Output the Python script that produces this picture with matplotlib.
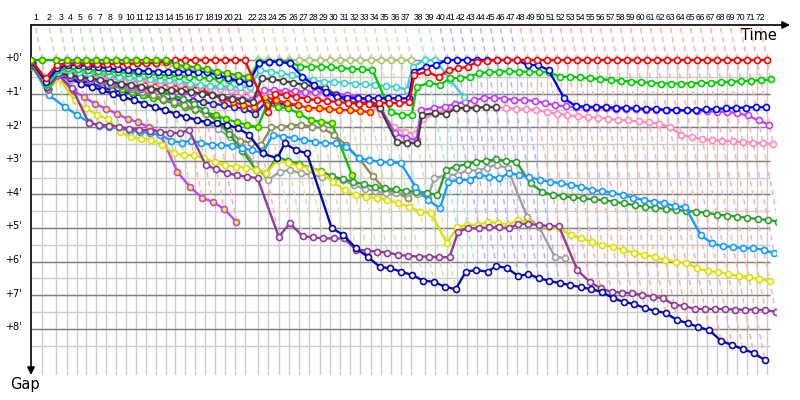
import numpy as np
import matplotlib
matplotlib.use("Agg")
import matplotlib.pyplot as plt

# leader lap times in minutes, laps 1..72
lap_times = [1.65, 2.08, 1.72,
             1.52, 1.52, 1.52, 1.52, 1.52, 1.52, 1.52, 1.52, 1.52, 1.52,
             1.52, 1.52, 1.52, 1.52, 1.52, 1.52, 1.52, 1.52,
             2.11,
             1.57, 1.57, 1.57, 1.57, 1.57, 1.57, 1.57, 1.57, 1.57, 1.57,
             1.57, 1.57, 1.57, 1.57, 1.57,
             2.08, 1.62, 1.72,
             1.54, 1.54, 1.54, 1.54, 1.54, 1.54, 1.54, 1.54, 1.54, 1.54,
             1.54, 1.54, 1.54, 1.54, 1.54, 1.54, 1.54, 1.54, 1.54, 1.54,
             1.54, 1.54, 1.54, 1.54, 1.54, 1.54, 1.54, 1.54, 1.54, 1.54,
             1.54, 1.54]

# who leads each lap (laps 1..72)
lap_leader = ["gy1"] * 13 + ["red"] * 8 + ["olive"] * 16 + ["cyan"] * 2 + ["blue"] * 8 + ["red"] * 25

# gap to the front (minutes) per lap, starting at lap 0
gy1 = [0, 0, 0, 0, 0, 0, 0, 0, 0, 0, 0, 0, 0, 0,
       0.15, 0.18, 0.22, 0.28, 0.35, 0.4, 0.45, 0.5]
red = [0.02, 0.55, 0.15, 0.1, 0.1, 0.12, 0.12, 0.12, 0.12, 0.12, 0.1, 0.1, 0.08, 0.05,
       0, 0, 0, 0, 0, 0, 0, 0,
       1.55, 1.0, 1.05, 1.1, 1.15, 1.2, 1.22, 1.25, 1.28, 1.3, 1.3, 1.28, 1.28, 1.28, 1.25,
       0.45, 0.35, 0.5, 0.3, 0.25, 0.2, 0.05, 0.02,
       0, 0, 0, 0, 0, 0, 0, 0, 0, 0, 0, 0, 0, 0, 0, 0, 0, 0, 0, 0, 0, 0, 0, 0, 0, 0, 0, 0]
blue = [0.05, 0.65, 0.25, 0.15, 0.15, 0.18, 0.2, 0.25, 0.28, 0.3, 0.32, 0.33, 0.35, 0.35,
        0.35, 0.35, 0.36, 0.36, 0.45, 0.55, 0.62, 0.68,
        0.1, 0.05, 0.05, 0.1, 0.5, 0.75, 0.95, 1.1, 1.12, 1.14, 1.14, 1.14, 1.14, 1.14, 1.14,
        0.35, 0.2, 0.15, 0, 0, 0, 0, 0, 0, 0, 0, 0.15, 0.15, 0.3, 1.14,
        1.37, 1.39, 1.4, 1.4, 1.42, 1.42, 1.44, 1.45, 1.46, 1.48, 1.49, 1.5, 1.48, 1.47,
        1.45, 1.44, 1.42, 1.42, 1.4, 1.41]
green = [0.1, 0.7, 0.3, 0.25, 0.28, 0.3, 0.32, 0.34, 0.36, 0.38, 0.4, 0.42, 0.44, 0.46,
         0.48, 0.5, 0.52, 0.55, 0.58, 0.6, 0.62, 0.65,
         0.05, 0.05, 0.05, 0.05, 0.2, 0.2, 0.2, 0.22, 0.24, 0.26, 0.28, 0.3, 1.55, 1.64, 1.64,
         0.8, 0.68, 0.74, 0.54, 0.54, 0.5, 0.39, 0.36, 0.35, 0.33, 0.35, 0.35, 0.36, 0.36, 0.5,
         0.5, 0.52, 0.55, 0.57, 0.6, 0.62, 0.64, 0.66, 0.68, 0.7, 0.7, 0.7, 0.7, 0.68, 0.68,
         0.66, 0.65, 0.63, 0.62, 0.6, 0.58]
olive = [0.05, 0.6, 0.2, 0.05, 0.05, 0.08, 0.08, 0.1, 0.1, 0.1, 0.12, 0.12, 0.12, 0.15,
         0.2, 0.25, 0.32, 0.38, 0.45, 0.5, 0.55, 0.6,
         0, 0, 0, 0, 0, 0, 0, 0, 0, 0, 0, 0, 0, 0, 0, 0]
cyan = [0.1, 0.75, 0.35, 0.3, 0.35, 0.38, 0.4, 0.45, 0.5, 0.52, 0.55, 0.58, 0.6, 0.6,
        0.62, 0.72, 0.75, 0.78, 0.78, 0.8, 0.8, 0.8,
        0.3, 0.35, 0.4, 0.45, 0.53, 0.6, 0.65, 0.65, 0.68, 0.7, 0.72, 0.74, 0.78, 0.8, 0.88,
        0.2, 0, 0, 0.6, 1.1]
black = [0.12, 0.8, 0.4, 0.45, 0.5, 0.55, 0.6, 0.65, 0.7, 0.75, 0.8, 0.85, 0.88, 0.9,
         0.92, 0.95, 1.0, 1.05, 1.1, 1.15, 1.2, 1.25,
         0.55, 0.58, 0.62, 0.68, 0.74, 0.78, 0.83, 1.04, 1.25, 1.28, 1.28, 1.43, 2.44, 2.47, 2.47,
         1.64, 1.58, 1.62, 1.43, 1.43, 1.43, 1.4, 1.4]
violet = [0.15, 0.85, 0.45, 0.5, 0.55, 0.6, 0.65, 0.7, 0.75, 0.8, 0.85, 0.88, 0.9, 0.92,
          0.95, 1.0, 1.02, 1.05, 1.1, 1.12, 1.15, 1.2,
          0.9, 0.9, 0.92, 0.92, 0.95, 0.95, 0.98, 1.0, 1.05, 1.1, 1.2, 1.35, 2.17, 2.32, 2.38,
          1.49, 1.43, 1.4, 1.3, 1.25, 1.2, 1.13, 1.13, 1.15, 1.19, 1.19, 1.22, 1.28, 1.35,
          1.38, 1.4, 1.42, 1.42, 1.44, 1.45, 1.45, 1.46, 1.48, 1.48, 1.5, 1.5, 1.5, 1.52,
          1.52, 1.54, 1.55, 1.58, 1.65, 1.8, 1.93]
pink = [0.12, 0.8, 0.4, 0.4, 0.45, 0.5, 0.52, 0.55, 0.58, 0.6, 0.62, 0.65, 0.68, 0.7,
        0.72, 0.75, 0.78, 0.82, 0.85, 0.9, 0.95, 1.0,
        0.95, 0.92, 0.95, 0.98, 1.0, 1.0, 1.02, 1.05, 1.1, 1.2, 1.3, 1.6, 2.0, 2.15, 2.2,
        1.75, 1.6, 1.5, 1.43, 1.42, 1.4, 1.4, 1.42, 1.43, 1.45, 1.47, 1.49, 1.55, 1.6,
        1.64, 1.68, 1.7, 1.72, 1.75, 1.78, 1.8, 1.83, 1.86, 1.9,
        2.0, 2.23, 2.3, 2.35, 2.38, 2.4, 2.42, 2.44, 2.46, 2.48, 2.5]
navy = [0.15, 0.85, 0.45, 0.55, 0.7, 0.8, 0.9, 1.0, 1.1, 1.2, 1.3, 1.4, 1.5, 1.6,
        1.7, 1.78, 1.85, 1.88, 1.93, 2.03, 2.23, 2.78,
        2.93, 2.48, 2.68, 2.78, 5.0, 5.2, 5.6, 5.86, 6.16, 6.2, 6.3, 6.4, 6.57, 6.6, 6.75,
        6.82, 6.3, 6.25, 6.3, 6.13, 6.19, 6.43, 6.37, 6.49, 6.58, 6.64, 6.7, 6.76, 6.82,
        6.9, 7.08, 7.2, 7.26, 7.38, 7.47, 7.53, 7.74, 7.83, 7.95, 8.04, 8.36, 8.48, 8.6,
        8.72, 8.93]
purple = [0.18, 0.85, 0.45, 0.84, 1.88, 1.93, 1.95, 1.98, 2.05, 2.07, 2.1, 2.13, 2.16, 2.18,
          2.08, 3.12, 3.25, 3.37, 3.43, 3.47, 3.52, 5.26,
          4.86, 5.24, 5.28, 5.31, 5.31, 5.31, 5.65, 5.67, 5.7, 5.73, 5.8, 5.83, 5.85, 5.85, 5.87,
          5.87, 5.11, 5.01, 5.01, 4.98, 4.98, 5.01, 4.88, 4.88, 4.91, 4.94, 4.94,
          6.25, 6.6, 6.8, 6.9, 6.92, 6.94, 6.99, 7.04, 7.09, 7.29, 7.32, 7.41, 7.41, 7.41,
          7.41, 7.43, 7.43, 7.43, 7.45, 7.49]
yellow = [0.2, 0.9, 0.55, 1.2, 1.43, 1.64, 1.75, 2.15, 2.29, 2.35, 2.38, 2.53, 2.77, 2.83,
          2.83, 2.92, 3.04, 3.13, 3.17, 3.2, 3.27, 3.36,
          2.98, 3.07, 3.15, 3.2, 3.33, 3.63, 3.87, 4.02, 4.08, 4.11, 4.17, 4.26, 4.37, 4.52, 4.55,
          5.45, 4.97, 4.91, 4.9, 4.82, 4.85, 4.9, 4.76, 4.82, 4.91, 4.97, 5.0, 5.21, 5.3,
          5.42, 5.5, 5.56, 5.65, 5.74, 5.8, 5.86, 5.95, 6.0, 6.04, 6.19, 6.28, 6.31, 6.37,
          6.43, 6.46, 6.52, 6.58]
deepsky = [0.2, 1.04, 1.39, 1.64, 1.85, 1.95, 2.0, 2.05, 2.1, 2.13, 2.18, 2.23, 2.4, 2.46,
           2.4, 2.46, 2.53, 2.53, 2.56, 2.63, 2.68, 2.77,
           2.23, 2.28, 2.33, 2.38, 2.43, 2.48, 2.48, 2.58, 2.93, 2.98, 3.03, 3.05, 3.07, 3.77, 4.17,
           4.41, 3.62, 3.57, 3.57, 3.42, 3.47, 3.52, 3.37, 3.42, 3.49, 3.57, 3.62, 3.67, 3.72,
           3.77, 3.87, 3.9, 3.95, 4.02, 4.1, 4.17, 4.22, 4.26, 4.35, 4.38, 5.21, 5.46, 5.54,
           5.56, 5.6, 5.6, 5.65, 5.75]
fgreen = [0.12, 0.75, 0.35, 0.45, 0.5, 0.55, 0.6, 0.65, 0.7, 0.75, 0.8, 0.88, 0.95, 1.05,
          1.15, 1.3, 1.5, 1.8, 2.2, 2.7, 3.27, 3.37,
          2.88, 3.0, 3.1, 3.2, 3.3, 3.45, 3.55, 3.62, 3.7, 3.78, 3.82, 3.85, 3.9, 3.92, 3.95,
          4.02, 3.27, 3.17, 3.1, 3.03, 3.0, 2.96, 3.0, 3.03, 3.67, 3.92, 4.02, 4.05, 4.09,
          4.12, 4.15, 4.17, 4.22, 4.27, 4.32, 4.37, 4.4, 4.43, 4.46, 4.49, 4.52, 4.55, 4.6,
          4.63, 4.66, 4.7, 4.73, 4.76, 4.81]
grey = [0.2, 0.9, 0.5, 0.6, 0.7, 0.8, 0.9, 1.0, 1.1, 1.2, 1.3, 1.4, 1.5, 1.6,
        1.7, 1.8, 1.9, 2.05, 2.3, 2.6, 3.1, 3.57,
        3.33, 3.27, 3.37, 3.42, 3.48, 3.52, 3.57, 3.72, 3.84, 3.9, 3.97, 3.97, 3.97, 4.0, 4.09,
        3.52, 3.42, 3.42, 3.27, 3.3, 3.2, 3.12, 3.22, 4.66, 4.96, 5.85, 5.9]
khaki = [0.18, 0.85, 0.4, 0.5, 0.55, 0.6, 0.65, 0.7, 0.78, 0.85, 0.95, 1.05, 1.15, 1.25,
         1.35, 1.45, 1.6, 1.8, 2.1, 2.4, 2.46, 2.53,
         2.0, 2.0, 1.95, 1.93, 1.98, 2.03, 2.23, 2.53, 2.93, 3.45, 3.87, 3.92, 4.12]
gy2 = [0.1, 0.7, 0.3, 0.35, 0.45, 0.55, 0.65, 0.75, 0.85, 0.95, 1.05, 1.12, 1.2, 1.3,
       1.4, 1.48, 1.55, 1.64, 1.76, 1.85, 1.93, 2.0,
       1.34, 1.4, 1.43, 1.6, 1.79, 1.85, 1.88, 3.42]
ry = [0.08, 0.65, 0.25, 0.3, 0.35, 0.4, 0.45, 0.5, 0.55, 0.6, 0.65, 0.7, 0.72, 0.75,
      0.78, 0.8, 0.83, 1.04, 1.16, 1.25, 1.34, 1.4,
      1.1, 1.2, 1.28, 1.34, 1.43, 1.43, 1.46, 1.49, 1.49, 1.52, 1.55]
vy = [0.15, 0.8, 0.5, 0.9, 1.1, 1.3, 1.45, 1.6, 1.75, 1.85, 2.0, 2.16, 3.33, 3.78,
      4.1, 4.22, 4.43, 4.82]
by = [0.1, 0.75, 0.35, 0.5, 0.6, 0.7, 0.8, 0.9, 0.95, 1.0, 1.05, 1.1, 1.15, 1.18,
      1.2, 1.22, 1.25, 1.3, 1.35, 1.4, 1.45, 1.6,
      1.25, 1.3, 1.33, 1.35]

# (gaps, line colour, marker fill) in drawing order
series = [
    (vy, "#c444ee", "#ffff00"),
    (by, "#1a1aff", "#ffff00"),
    (gy2, "#10c010", "#ffff00"),
    (ry, "#ff1a1a", "#ffff00"),
    (khaki, "#8e8a5a", "white"),
    (grey, "#a0a0a0", "white"),
    (fgreen, "#2ca02c", "white"),
    (deepsky, "#1a9cff", "white"),
    (yellow, "#e0e000", "white"),
    (purple, "#903c98", "white"),
    (navy, "#0a0aa8", "white"),
    (pink, "#ff8cb8", "white"),
    (violet, "#c040f0", "white"),
    (black, "#404040", "white"),
    (cyan, "#40d0d0", "white"),
    (olive, "#b2c47a", "white"),
    (green, "#00cc00", "white"),
    (blue, "#0000ff", "white"),
    (red, "#ff0000", "white"),
    (gy1, "#22aa22", "#ffff00"),
]
dash_colors = {"gy1": "#b8dcb0", "red": "#ffb0b0", "olive": "#d6e0b8",
               "cyan": "#a8e6ea", "blue": "#b4b4ff"}

PXX = 6.5    # px per minute along x
PXY = 33.6   # px per minute along y
cum = np.concatenate([[0.0], np.cumsum(lap_times)])

fig = plt.figure(figsize=(8, 4), dpi=100)
ax = fig.add_axes([31 / 800, 25 / 400, 745 / 800, 350 / 400])
x0 = (31 - 31.3) / PXX
x1 = (776 - 31.3) / PXX
ybot = (375 - 60) / PXY
ytop = (25 - 60) / PXY
ax.set_xlim(x0, x1)
ax.set_ylim(ybot, ytop)
ax.axis("off")

xend = (770 - 31.3) / PXX
for k in range(1, 18):
    g = k * 0.5
    ax.hlines(g, 0, xend, color="#cccccc", lw=1, zorder=1)
for g in range(0, 9):
    ax.hlines(g, 0, xend, color="#808080", lw=1, zorder=1.2)
for n in range(1, 73):
    ax.vlines(cum[n], -0.2, ybot, color="#cccccc", lw=1, zorder=1.1)

# lap lines: same lap for every car
top_g = -0.95
for n in range(1, 73):
    gmax = 0
    for s, _, _ in series:
        if n < len(s):
            gmax = max(gmax, s[n])
    ax.plot([cum[n] + top_g, cum[n] + gmax], [top_g, gmax],
            color=dash_colors[lap_leader[n - 1]], lw=1.1,
            linestyle=(0, (3.5, 2.5)), zorder=2)

for i, (s, col, face) in enumerate(series):
    g = np.array(s, dtype=float)
    laps = np.arange(len(g))
    x = cum[laps] + g
    ax.plot(x, g, color=col, lw=1.7, marker="o", ms=4.3, mfc=face, mec=col,
            mew=1.2, zorder=3 + i * 0.1)

# lap numbers along the top
for n in range(1, 73):
    ax.text(cum[n] + top_g, (17 - 60) / PXY, str(n), ha="center", va="center",
            fontsize=6.2, family=["Liberation Sans", "DejaVu Sans"], clip_on=False)

# gap labels
for g in range(0, 9):
    ax.text((22 - 31.3) / PXX, g - 0.05, "+%d'" % g, ha="right", va="center",
            fontsize=7, clip_on=False)

# axes arrows
ax.annotate("", xy=(1.0188, 1), xytext=(0, 1), xycoords="axes fraction",
            arrowprops=dict(arrowstyle="-|>", color="black", lw=1.2, mutation_scale=11,
                            shrinkA=0, shrinkB=0))
ax.annotate("", xy=(0, 0.0), xytext=(0, 1), xycoords="axes fraction",
            arrowprops=dict(arrowstyle="-|>", color="black", lw=1.2, mutation_scale=11,
                            shrinkA=0, shrinkB=0))
fig.text(777 / 800, 1 - 35 / 400, "Time", ha="right", va="center", fontsize=10.5)
fig.text(10 / 800, 1 - 385 / 400, "Gap", ha="left", va="center", fontsize=10.5)

fig.savefig("out.png", dpi=100)
